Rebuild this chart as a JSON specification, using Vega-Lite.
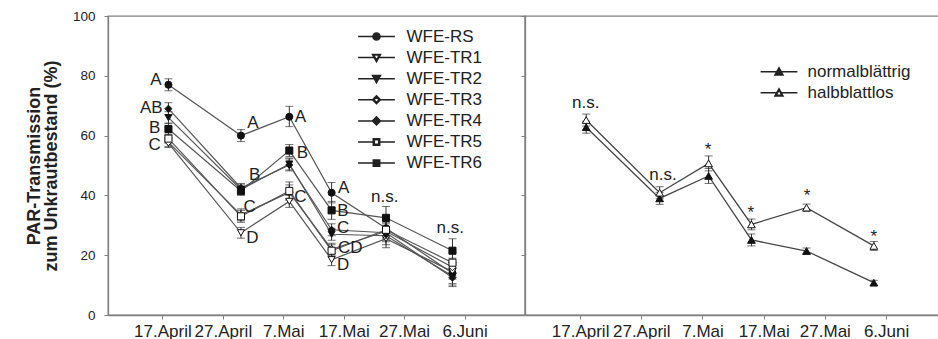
{
  "$schema": "https://vega.github.io/schema/vega-lite/v6.json",
  "padding": {"left": 24, "top": 8, "right": 0, "bottom": 0},
  "background": "white",
  "spacing": 0,
  "bounds": "flush",
  "resolve": {"scale": {"shape": "independent", "fill": "independent"}, "legend": {"shape": "independent", "fill": "independent"}},
  "config": {
    "font": "Liberation Sans",
    "view": {"stroke": "#808080", "strokeWidth": 1.3},
    "axis": {"domainColor": "#808080", "tickColor": "#808080", "domainWidth": 1.3, "tickWidth": 1, "grid": false, "labelFont": "Liberation Sans", "titleFont": "Liberation Sans", "labelColor": "#222", "titleColor": "#222", "tickSize": 4},
    "text": {"font": "Liberation Sans"}
  },
  "datasets": {
    "left": [
      {"series": "WFE-RS", "d": 1, "v": 77, "lo": 75, "hi": 79},
      {"series": "WFE-RS", "d": 13, "v": 60, "lo": 58, "hi": 62},
      {"series": "WFE-RS", "d": 21, "v": 66.3, "lo": 63, "hi": 69.8},
      {"series": "WFE-RS", "d": 28, "v": 40.9, "lo": 37.5, "hi": 44.3},
      {"series": "WFE-RS", "d": 37, "v": 29, "lo": 26, "hi": 32},
      {"series": "WFE-RS", "d": 48, "v": 14, "lo": 10.5, "hi": 17.5},
      {"series": "WFE-TR1", "d": 1, "v": 57.5, "lo": 56, "hi": 59},
      {"series": "WFE-TR1", "d": 13, "v": 27.5, "lo": 25.7, "hi": 29.3},
      {"series": "WFE-TR1", "d": 21, "v": 38, "lo": 36, "hi": 40},
      {"series": "WFE-TR1", "d": 28, "v": 18.5, "lo": 16.5, "hi": 20.5},
      {"series": "WFE-TR1", "d": 37, "v": 25.5, "lo": 22.5, "hi": 28.5},
      {"series": "WFE-TR1", "d": 48, "v": 14.5, "lo": 12, "hi": 17},
      {"series": "WFE-TR2", "d": 1, "v": 66, "lo": 64, "hi": 68},
      {"series": "WFE-TR2", "d": 13, "v": 42, "lo": 40.5, "hi": 43.5},
      {"series": "WFE-TR2", "d": 21, "v": 50.5, "lo": 48.5, "hi": 52.5},
      {"series": "WFE-TR2", "d": 28, "v": 27, "lo": 25, "hi": 29},
      {"series": "WFE-TR2", "d": 37, "v": 26.5, "lo": 23.5, "hi": 29.5},
      {"series": "WFE-TR2", "d": 48, "v": 13, "lo": 10, "hi": 16},
      {"series": "WFE-TR3", "d": 1, "v": 57.8, "lo": 56.3, "hi": 59.3},
      {"series": "WFE-TR3", "d": 13, "v": 33.5, "lo": 31.5, "hi": 35.5},
      {"series": "WFE-TR3", "d": 21, "v": 41, "lo": 38.5, "hi": 43.5},
      {"series": "WFE-TR3", "d": 28, "v": 22, "lo": 20, "hi": 24},
      {"series": "WFE-TR3", "d": 37, "v": 28, "lo": 25, "hi": 31},
      {"series": "WFE-TR3", "d": 48, "v": 16, "lo": 13, "hi": 19},
      {"series": "WFE-TR4", "d": 1, "v": 69, "lo": 67, "hi": 71},
      {"series": "WFE-TR4", "d": 13, "v": 42.5, "lo": 41, "hi": 44},
      {"series": "WFE-TR4", "d": 21, "v": 50.2, "lo": 48.2, "hi": 52.2},
      {"series": "WFE-TR4", "d": 28, "v": 28.5, "lo": 26.5, "hi": 30.5},
      {"series": "WFE-TR4", "d": 37, "v": 27.5, "lo": 24.5, "hi": 30.5},
      {"series": "WFE-TR4", "d": 48, "v": 12.5, "lo": 9.5, "hi": 15.5},
      {"series": "WFE-TR5", "d": 1, "v": 59, "lo": 57.5, "hi": 60.5},
      {"series": "WFE-TR5", "d": 13, "v": 33, "lo": 31, "hi": 35},
      {"series": "WFE-TR5", "d": 21, "v": 41.5, "lo": 38.5, "hi": 44.5},
      {"series": "WFE-TR5", "d": 28, "v": 21.5, "lo": 19.5, "hi": 23.5},
      {"series": "WFE-TR5", "d": 37, "v": 28.5, "lo": 25.5, "hi": 31.5},
      {"series": "WFE-TR5", "d": 48, "v": 17.5, "lo": 14, "hi": 21},
      {"series": "WFE-TR6", "d": 1, "v": 62.2, "lo": 60.2, "hi": 64.2},
      {"series": "WFE-TR6", "d": 13, "v": 41.5, "lo": 40, "hi": 43},
      {"series": "WFE-TR6", "d": 21, "v": 55, "lo": 53, "hi": 57},
      {"series": "WFE-TR6", "d": 28, "v": 35, "lo": 32, "hi": 38},
      {"series": "WFE-TR6", "d": 37, "v": 32.5, "lo": 28.7, "hi": 36.3},
      {"series": "WFE-TR6", "d": 48, "v": 21.5, "lo": 17.5, "hi": 25.5}
    ],
    "leftLabels": [
      {"d": -1.06, "v": 78.6, "t": "A"},
      {"d": -1.83, "v": 69.1, "t": "AB"},
      {"d": -1.27, "v": 62.4, "t": "B"},
      {"d": -1.27, "v": 56.9, "t": "C"},
      {"d": 14.99, "v": 64.1, "t": "A"},
      {"d": 15.28, "v": 46.8, "t": "B"},
      {"d": 14.45, "v": 36.2, "t": "C"},
      {"d": 14.88, "v": 25.6, "t": "D"},
      {"d": 22.82, "v": 66.3, "t": "A"},
      {"d": 23.15, "v": 54.1, "t": "B"},
      {"d": 22.82, "v": 39.6, "t": "C"},
      {"d": 30.0, "v": 42.4, "t": "A"},
      {"d": 29.89, "v": 34.8, "t": "B"},
      {"d": 29.89, "v": 29.0, "t": "C"},
      {"d": 31.1, "v": 22.3, "t": "CD"},
      {"d": 29.89, "v": 16.7, "t": "D"},
      {"d": 36.79, "v": 39.6, "t": "n.s."},
      {"d": 47.64, "v": 29.0, "t": "n.s."}
    ],
    "right": [
      {"series": "normalblättrig", "d": 1, "v": 62.8, "lo": 60.8, "hi": 64.8},
      {"series": "normalblättrig", "d": 13, "v": 39, "lo": 37, "hi": 41},
      {"series": "normalblättrig", "d": 21, "v": 46.5, "lo": 44, "hi": 49},
      {"series": "normalblättrig", "d": 28, "v": 25.1, "lo": 23.1, "hi": 27.1},
      {"series": "normalblättrig", "d": 37, "v": 21.4, "lo": 20.4, "hi": 22.4},
      {"series": "normalblättrig", "d": 48, "v": 10.8, "lo": 10, "hi": 11.6},
      {"series": "halbblattlos", "d": 1, "v": 65.2, "lo": 63.2, "hi": 67.2},
      {"series": "halbblattlos", "d": 13, "v": 40.9, "lo": 38.9, "hi": 42.9},
      {"series": "halbblattlos", "d": 21, "v": 50.7, "lo": 48.2, "hi": 53.2},
      {"series": "halbblattlos", "d": 28, "v": 30.3, "lo": 28.5, "hi": 32.1},
      {"series": "halbblattlos", "d": 37, "v": 35.9, "lo": 34.7, "hi": 37.1},
      {"series": "halbblattlos", "d": 48, "v": 23.1, "lo": 21.6, "hi": 24.6}
    ],
    "rightLabels": [
      {"d": 0.92, "v": 70.8, "t": "n.s."},
      {"d": 13.55, "v": 46.8, "t": "n.s."},
      {"d": 20.9, "v": 56.5, "t": "*"},
      {"d": 27.88, "v": 35.4, "t": "*"},
      {"d": 37.08, "v": 41.2, "t": "*"},
      {"d": 47.98, "v": 27.5, "t": "*"}
    ]
  },
  "hconcat": [
    {
      "width": 417,
      "height": 299,
      "data": {"name": "left"},
      "resolve": {"scale": {"shape": "independent", "fill": "independent"}, "legend": {"shape": "independent", "fill": "independent"}},
      "encoding": {
        "x": {"field": "d", "type": "quantitative", "scale": {"domain": [-9, 60], "nice": false, "zero": false},
          "axis": {"values": [0, 10, 20, 30, 40, 50], "labelExpr": "['17.April','27.April','7.Mai','17.Mai','27.Mai','6.Juni'][round(datum.value/10)]", "title": null, "labelFontSize": 17, "labelPadding": 4, "labelOverlap": false, "labelFlush": false, "labelBound": false}},
        "y": {"field": "v", "type": "quantitative", "scale": {"domain": [0, 100], "nice": false}, "title": ["PAR-Transmission", "zum Unkrautbestand (%)"],
          "axis": {"values": [0, 20, 40, 60, 80, 100], "labelFontSize": 13.5, "labelPadding": 9, "titleFontSize": 18, "titleFontWeight": "bold", "titleLineHeight": 17, "titlePadding": 12}}
      },
      "layer": [
        {
          "mark": {"type": "errorbar", "ticks": true, "size": 8, "color": "#333", "thickness": 1},
          "encoding": {
            "y": {"field": "lo", "type": "quantitative", "scale": {"domain": [0, 100], "nice": false}, "title": ["PAR-Transmission", "zum Unkrautbestand (%)"]},
            "y2": {"field": "hi"},
            "detail": {"field": "series"}
          }
        },
        {
          "mark": {"type": "line", "color": "#555", "strokeWidth": 1.2},
          "encoding": {"detail": {"field": "series"}}
        },
        {
          "mark": {"type": "point", "filled": true, "stroke": "#111", "strokeWidth": 1, "size": 50, "opacity": 1},
          "encoding": {
            "shape": {"field": "series", "type": "nominal",
              "scale": {"domain": ["WFE-RS", "WFE-TR1", "WFE-TR2", "WFE-TR3", "WFE-TR4", "WFE-TR5", "WFE-TR6"], "range": ["circle", "triangle-down", "triangle-down", "diamond", "diamond", "square", "square"]},
              "legend": null},
            "fill": {"field": "series", "type": "nominal",
              "scale": {"domain": ["WFE-RS", "WFE-TR1", "WFE-TR2", "WFE-TR3", "WFE-TR4", "WFE-TR5", "WFE-TR6"], "range": ["#111", "#fff", "#111", "#fff", "#111", "#fff", "#111"]},
              "legend": null}
          }
        },
        {
          "transform": [{"filter": "datum.d > 1000"}],
          "mark": {"type": "point", "filled": true, "fill": "#222", "stroke": "#222", "strokeWidth": 1, "opacity": 1},
          "encoding": {
            "shape": {"field": "series", "type": "nominal",
              "scale": {"domain": ["WFE-RS", "WFE-TR1", "WFE-TR2", "WFE-TR3", "WFE-TR4", "WFE-TR5", "WFE-TR6"],
                "range": [
                  "M-4.6,0H-0.9M0.9,0H4.6M-0.9,0A0.9,0.9,0,1,0,0.9,0A0.9,0.9,0,1,0,-0.9,0Z",
                  "M-4.6,0H-0.55M0.55,0H4.6M-1,-0.8L1,-0.8L0,1ZM0,0.64L0.7,-0.62L-0.7,-0.62Z",
                  "M-4.6,0H-0.55M0.55,0H4.6M-1,-0.8L1,-0.8L0,1Z",
                  "M-4.6,0H-1M1,0H4.6M-1,0L0,-1L1,0L0,1ZM-0.65,0L0,0.65L0.65,0L0,-0.65Z",
                  "M-4.6,0H-1M1,0H4.6M-1,0L0,-1L1,0L0,1Z",
                  "M-4.6,0H-0.8M0.8,0H4.6M-0.8,-0.8H0.8V0.8H-0.8ZM-0.55,-0.55V0.55H0.55V-0.55Z",
                  "M-4.6,0H-0.8M0.8,0H4.6M-0.8,-0.8H0.8V0.8H-0.8Z"
                ]},
              "legend": {"title": null, "orient": "none", "legendX": 260, "legendY": 12, "padding": 0, "labelFontSize": 17, "labelFont": "Liberation Sans", "labelColor": "#222", "symbolSize": 64, "labelOffset": 21.5, "rowPadding": 3.1,
                "encode": {"symbols": {"stroke": {"value": "#222"}, "strokeWidth": {"value": 1}, "opacity": {"value": 1}}}}}
          }
        },
        {
          "data": {"name": "leftLabels"},
          "mark": {"type": "text", "fontSize": 17, "color": "#222", "align": "center", "baseline": "middle"},
          "encoding": {"text": {"field": "t"}}
        }
      ]
    },
    {
      "width": 418,
      "height": 299,
      "data": {"name": "right"},
      "resolve": {"scale": {"shape": "independent", "fill": "independent"}, "legend": {"shape": "independent", "fill": "independent"}},
      "encoding": {
        "x": {"field": "d", "type": "quantitative", "scale": {"domain": [-9, 59.3], "nice": false, "zero": false},
          "axis": {"values": [0, 10, 20, 30, 40, 50], "labelExpr": "['17.April','27.April','7.Mai','17.Mai','27.Mai','6.Juni'][round(datum.value/10)]", "title": null, "labelFontSize": 17, "labelPadding": 4, "labelOverlap": false, "labelFlush": false, "labelBound": false}},
        "y": {"field": "v", "type": "quantitative", "scale": {"domain": [0, 100], "nice": false}, "title": null,
          "axis": {"values": [0, 20, 40, 60, 80, 100], "labels": false}}
      },
      "layer": [
        {
          "mark": {"type": "errorbar", "ticks": true, "size": 8, "color": "#333", "thickness": 1},
          "encoding": {
            "y": {"field": "lo", "type": "quantitative", "scale": {"domain": [0, 100], "nice": false}, "title": null},
            "y2": {"field": "hi"},
            "detail": {"field": "series"}
          }
        },
        {
          "mark": {"type": "line", "color": "#444", "strokeWidth": 1.3},
          "encoding": {"detail": {"field": "series"}}
        },
        {
          "mark": {"type": "point", "filled": true, "stroke": "#111", "strokeWidth": 1, "size": 60, "opacity": 1},
          "encoding": {
            "shape": {"field": "series", "type": "nominal",
              "scale": {"domain": ["normalblättrig", "halbblattlos"], "range": ["triangle-up", "triangle-up"]},
              "legend": null},
            "fill": {"field": "series", "type": "nominal",
              "scale": {"domain": ["normalblättrig", "halbblattlos"], "range": ["#111", "#fff"]},
              "legend": null}
          }
        },
        {
          "transform": [{"filter": "datum.d > 1000"}],
          "mark": {"type": "point", "filled": true, "fill": "#222", "stroke": "#222", "strokeWidth": 1, "opacity": 1},
          "encoding": {
            "shape": {"field": "series", "type": "nominal",
              "scale": {"domain": ["normalblättrig", "halbblattlos"], "range": ["M-4.6,0H-0.55M0.55,0H4.6M-1,0.8L0,-1L1,0.8Z", "M-4.6,0H-0.55M0.55,0H4.6M-1,0.8L0,-1L1,0.8ZM0.7,0.62L0,-0.64L-0.7,0.62Z"]},
              "legend": {"title": null, "orient": "none", "legendX": 245.5, "legendY": 47.2, "padding": 0, "labelFontSize": 17, "labelFont": "Liberation Sans", "labelColor": "#222", "symbolSize": 64, "labelOffset": 20, "rowPadding": 3,
                "encode": {"symbols": {"stroke": {"value": "#222"}, "strokeWidth": {"value": 1}, "opacity": {"value": 1}}}}}
          }
        },
        {
          "data": {"name": "rightLabels"},
          "transform": [{"filter": "datum.t != '*'"}],
          "mark": {"type": "text", "fontSize": 17, "color": "#222", "align": "center", "baseline": "middle"},
          "encoding": {"text": {"field": "t"}}
        },
        {
          "data": {"name": "rightLabels"},
          "transform": [{"filter": "datum.t == '*'"}],
          "mark": {"type": "text", "fontSize": 17, "color": "#222", "align": "center", "baseline": "middle", "dy": 4},
          "encoding": {"text": {"field": "t"}}
        }
      ]
    }
  ]
}
